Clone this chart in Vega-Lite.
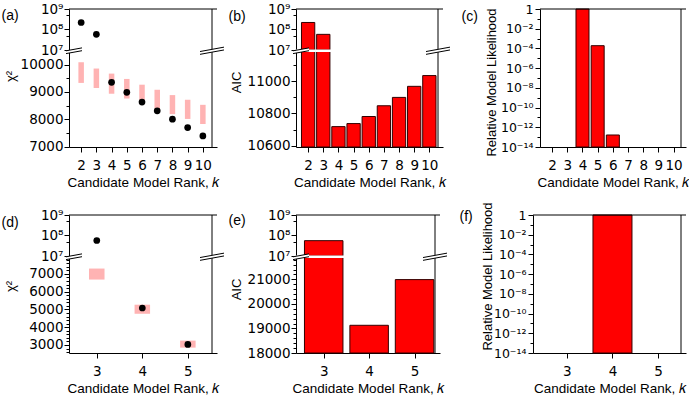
{
"$schema":"https://vega.github.io/schema/vega-lite/v6.json",
"padding":{"left":1,"top":2,"right":0,"bottom":0},
"config":{
  "view":{"stroke":null},
  "font":"Liberation Sans",
  "axis":{"grid":false,"domainColor":"black","tickColor":"black","labelColor":"black","titleColor":"black","labelFont":"DejaVu Sans","labelFontSize":13.5,"titleFont":"Liberation Sans","titleFontSize":13,"titleFontWeight":"normal","labelFlush":false,"labelOverlap":false,"labelBound":false,"labelSeparation":0,"domainWidth":1,"tickWidth":1,"labelPadding":1,"tickCount":100},
  "axisX":{"titleFontSize":13.5,"labelPadding":6.5,"titlePadding":3.5,"tickSize":5,"labelOverlap":false},
  "axisQuantitative":{"labelOverlap":false}
},
"datasets":{
  "top_chi":[
    {"k":2,"chi2":220000000,"lo":9330,"hi":10085},
    {"k":3,"chi2":58000000,"lo":9145,"hi":9855},
    {"k":4,"chi2":9350,"lo":8935,"hi":9670},
    {"k":5,"chi2":8985,"lo":8760,"hi":9475},
    {"k":6,"chi2":8630,"lo":8555,"hi":9265},
    {"k":7,"chi2":8310,"lo":8345,"hi":9080},
    {"k":8,"chi2":8005,"lo":8190,"hi":8885},
    {"k":9,"chi2":7700,"lo":8015,"hi":8715},
    {"k":10,"chi2":7395,"lo":7830,"hi":8530}],
  "top_aic":[{"k":2,"aic":220000000},{"k":3,"aic":58000000},{"k":4,"aic":10718},{"k":5,"aic":10737},{"k":6,"aic":10781},{"k":7,"aic":10848},{"k":8,"aic":10900},{"k":9,"aic":10969},{"k":10,"aic":11036}],
  "top_rml":[{"k":4,"rml":1},{"k":5,"rml":0.00019},{"k":6,"rml":1.65e-13}],
  "bot_chi":[{"k":3,"chi2":57000000,"lo":6680,"hi":7300},{"k":4,"chi2":5080,"lo":4755,"hi":5265},{"k":5,"chi2":3030,"lo":2850,"hi":3245}],
  "bot_aic":[{"k":3,"aic":56000000},{"k":4,"aic":19129},{"k":5,"aic":20990}],
  "bot_rml":[{"k":4,"rml":1}]
},
"spacing":12,
"vconcat":[
{"spacing":9,"hconcat":[
 {"spacing":2,"hconcat":[
  {
   "width":148,"height":138,
   "resolve":{"scale":{"y":"independent"},"axis":{"y":"independent"}},
   "layer":[
    {"data":{"name":"top_chi"},"layer":[
      {"mark":{"type":"bar","width":5.5,"color":"#ffb3b3"},
       "encoding":{
        "x":{"field":"k","type":"quantitative","scale":{"domain":[1.53,10.6],"nice":false,"zero":false},"axis":{"values":[2,3,4,5,6,7,8,9,10],"tickCount":100,"labelExpr":"format(datum.value, 'd')","labelOverlap":false,"title":"Candidate Model Rank, 𝑘"}},
        "y":{"field":"hi","type":"quantitative","scale":{"domain":[6990,10477],"range":[138,42.5],"nice":false,"zero":false,"clamp":true},"axis":{"orient":"left","tickCount":100,"labelOverlap":false,"values":[7000,7500,8000,8500,9000,9500,10000],"labelExpr":"datum.value % 1000 == 0 ? format(datum.value, 'd') : ''","tickSize":{"condition":{"test":"datum.value % 1000 != 0","value":3},"value":5},"title":"χ²","titleX":-59,"titleY":67,"titleBaseline":"middle"}},
        "y2":{"field":"lo"}}},
      {"transform":[{"filter":"datum.chi2 < 1e7"}],
       "mark":{"type":"circle","size":45,"color":"black","opacity":1},
       "encoding":{"x":{"field":"k","type":"quantitative"},"y":{"field":"chi2","type":"quantitative"}}}
    ]},
    {"layer":[
      {"data":{"name":"top_chi"},"transform":[{"filter":"datum.chi2 >= 1e7"}],
       "mark":{"type":"circle","size":45,"color":"black","opacity":1},
       "encoding":{"x":{"field":"k","type":"quantitative"},"y":{"field":"chi2","type":"quantitative","scale":{"type":"log","domain":[10000000,1000000000],"range":[41,0],"nice":false},"axis":{"orient":"left","tickCount":100,"labelOverlap":false,"values":[10000000,50000000,100000000,500000000,1000000000],"labelExpr":"datum.value == 1e9 ? '10⁹' : datum.value == 1e8 ? '10⁸' : datum.value == 1e7 ? '10⁷' : ''","tickSize":{"condition":{"test":"datum.value == 5e7 || datum.value == 5e8","value":3},"value":5},"title":"(a)","titleAngle":0,"titleX":-68,"titleY":6,"titleAlign":"left","titleBaseline":"middle","titleFontSize":14}}}},
      {"data":{"values":[{}]},"mark":{"type":"rule","color":"black","strokeWidth":1},"encoding":{"y":{"datum":1000000000}}},
      {"data":{"values":[{}]},"mark":{"type":"rule","color":"black","strokeWidth":1},"encoding":{"x":{"datum":10.6}}},
      {"data":{"values":[{}]},"mark":{"type":"point","shape":"M -1 0.008 L 1 -0.358 L 1 -0.008 L -1 0.358 Z","size":256,"filled":true,"color":"white","strokeWidth":0,"opacity":1},"encoding":{"x":{"datum":1.53},"y":{"datum":9190000}}},
      {"data":{"values":[{}]},"mark":{"type":"point","shape":"M -1 0.008 L 1 -0.358 M -1 0.358 L 1 -0.008","size":256,"filled":false,"color":"black","strokeWidth":1,"opacity":1},"encoding":{"x":{"datum":1.53},"y":{"datum":9190000}}},
      {"data":{"values":[{}]},"mark":{"type":"point","shape":"M -1 0.066 L 1 -0.3 L 1 -0.066 L -1 0.3 Z","size":576,"filled":true,"color":"white","strokeWidth":0,"opacity":1},"encoding":{"x":{"datum":10.6},"y":{"datum":9190000}}},
      {"data":{"values":[{}]},"mark":{"type":"point","shape":"M -1 0.066 L 1 -0.3 M -1 0.3 L 1 -0.066","size":576,"filled":false,"color":"black","strokeWidth":1,"opacity":1},"encoding":{"x":{"datum":10.6},"y":{"datum":9190000}}}
    ]}
   ]
  },
  {
   "width":147,"height":138,
   "resolve":{"scale":{"y":"independent"},"axis":{"y":"independent"}},
   "layer":[
    {"data":{"name":"top_aic"},"layer":[
      {"mark":{"type":"bar","width":13.3,"color":"#ff0000","stroke":"#330000","strokeWidth":1},
       "encoding":{
        "x":{"field":"k","type":"quantitative","scale":{"domain":[1.53,10.57],"nice":false,"zero":false},"axis":{"values":[2,3,4,5,6,7,8,9,10],"tickCount":100,"labelExpr":"format(datum.value, 'd')","labelOverlap":false,"title":"Candidate Model Rank, 𝑘"}},
        "y":{"field":"aic","type":"quantitative","scale":{"domain":[10591,11186],"range":[138,42.5],"nice":false,"zero":false,"clamp":true},"axis":{"orient":"left","tickCount":100,"labelOverlap":false,"values":[10600,10700,10800,10900,11000,11100],"labelExpr":"datum.value % 200 == 0 ? format(datum.value, 'd') : ''","tickSize":{"condition":{"test":"datum.value % 200 != 0","value":3},"value":5},"title":"AIC","titleX":-60,"titleY":73,"titleBaseline":"middle"}},
        "y2":{"datum":10591}}}
    ]},
    {"layer":[
      {"data":{"name":"top_aic"},"transform":[{"filter":"datum.aic >= 1e7"}],
       "mark":{"type":"bar","width":13.3,"color":"#ff0000","stroke":"#330000","strokeWidth":1},
       "encoding":{"x":{"field":"k","type":"quantitative"},"y":{"field":"aic","type":"quantitative","scale":{"type":"log","domain":[10000000,1000000000],"range":[41,0],"nice":false},"axis":{"orient":"left","tickCount":100,"labelOverlap":false,"values":[10000000,50000000,100000000,500000000,1000000000],"labelExpr":"datum.value == 1e9 ? '10⁹' : datum.value == 1e8 ? '10⁸' : datum.value == 1e7 ? '10⁷' : ''","tickSize":{"condition":{"test":"datum.value == 5e7 || datum.value == 5e8","value":3},"value":5},"title":"(b)","titleAngle":0,"titleX":-68,"titleY":7,"titleAlign":"left","titleBaseline":"middle","titleFontSize":14}},"y2":{"datum":10000000}}},
      {"data":{"values":[{}]},"mark":{"type":"rule","color":"white","strokeWidth":2.5},"encoding":{"y":{"datum":9190000}}},
      {"data":{"values":[{}]},"mark":{"type":"rule","color":"black","strokeWidth":1},"encoding":{"y":{"datum":1000000000}}},
      {"data":{"values":[{}]},"mark":{"type":"rule","color":"black","strokeWidth":1},"encoding":{"x":{"datum":10.57}}},
      {"data":{"values":[{}]},"mark":{"type":"point","shape":"M -1 0.008 L 1 -0.358 L 1 -0.008 L -1 0.358 Z","size":256,"filled":true,"color":"white","strokeWidth":0,"opacity":1},"encoding":{"x":{"datum":1.53},"y":{"datum":9190000}}},
      {"data":{"values":[{}]},"mark":{"type":"point","shape":"M -1 0.008 L 1 -0.358 M -1 0.358 L 1 -0.008","size":256,"filled":false,"color":"black","strokeWidth":1,"opacity":1},"encoding":{"x":{"datum":1.53},"y":{"datum":9190000}}},
      {"data":{"values":[{}]},"mark":{"type":"point","shape":"M -1 0.066 L 1 -0.3 L 1 -0.066 L -1 0.3 Z","size":576,"filled":true,"color":"white","strokeWidth":0,"opacity":1},"encoding":{"x":{"datum":10.57},"y":{"datum":9190000}}},
      {"data":{"values":[{}]},"mark":{"type":"point","shape":"M -1 0.066 L 1 -0.3 M -1 0.3 L 1 -0.066","size":576,"filled":false,"color":"black","strokeWidth":1,"opacity":1},"encoding":{"x":{"datum":10.57},"y":{"datum":9190000}}}
    ]}
   ]
  }
 ]},
 {
  "width":146,"height":138,
  "resolve":{"scale":{"y":"independent"},"axis":{"y":"independent"}},
  "layer":[
   {"layer":[
    {"data":{"name":"top_rml"},
     "mark":{"type":"bar","width":13,"color":"#ff0000","stroke":"#330000","strokeWidth":1},
     "encoding":{
      "x":{"field":"k","type":"quantitative","scale":{"domain":[1.53,10.49],"nice":false,"zero":false},"axis":{"values":[2,3,4,5,6,7,8,9,10],"tickCount":100,"labelExpr":"format(datum.value, 'd')","labelOverlap":false,"title":"Candidate Model Rank, 𝑘"}},
      "y":{"field":"rml","type":"quantitative","scale":{"type":"log","domain":[1e-14,1],"nice":false},"axis":{"orient":"left","tickCount":100,"labelOverlap":false,"labelFontSize":12.5,"values":[1,0.1,0.01,0.001,0.0001,1e-5,1e-6,1e-7,1e-8,1e-9,1e-10,1e-11,1e-12,1e-13,1e-14],"labelExpr":"datum.value == 1 ? '1' : datum.value == 0.01 ? '10⁻²' : datum.value == 0.0001 ? '10⁻⁴' : datum.value == 1e-6 ? '10⁻⁶' : datum.value == 1e-8 ? '10⁻⁸' : datum.value == 1e-10 ? '10⁻¹⁰' : datum.value == 1e-12 ? '10⁻¹²' : datum.value == 1e-14 ? '10⁻¹⁴' : ''","tickSize":{"condition":{"test":"indexof([0.1,0.001,1e-5,1e-7,1e-9,1e-11,1e-13], datum.value) >= 0","value":3},"value":5},"title":"Relative Model Likelihood","titleX":-49,"titleY":73,"titleBaseline":"middle","labelPadding":2}},
      "y2":{"datum":1e-14}}},
    {"data":{"values":[{}]},"mark":{"type":"rule","color":"black","strokeWidth":1},"encoding":{"y":{"datum":1}}},
    {"data":{"values":[{}]},"mark":{"type":"rule","color":"black","strokeWidth":1},"encoding":{"x":{"datum":10.49}}}
   ]},
   {"data":{"values":[{}]},"mark":{"type":"rule","opacity":0},"encoding":{"y":{"datum":0.5,"type":"quantitative","scale":{"domain":[0,1]},"axis":{"orient":"left","domain":false,"ticks":false,"labels":false,"title":"(c)","titleAngle":0,"titleX":-79,"titleY":7,"titleAlign":"left","titleBaseline":"middle","titleFontSize":14}}}}
  ]
 }
]},
{"spacing":10,"hconcat":[
 {"spacing":2,"hconcat":[
  {
   "width":148,"height":138,
   "resolve":{"scale":{"y":"independent"},"axis":{"y":"independent"}},
   "layer":[
    {"data":{"name":"bot_chi"},"layer":[
      {"mark":{"type":"bar","width":15.5,"color":"#ffb3b3"},
       "encoding":{
        "x":{"field":"k","type":"quantitative","scale":{"domain":[2.5,5.53],"nice":false,"zero":false},"axis":{"values":[3,4,5],"tickCount":100,"labelExpr":"format(datum.value, 'd')","labelOverlap":false,"title":"Candidate Model Rank, 𝑘"}},
        "y":{"field":"hi","type":"quantitative","scale":{"domain":[2547,7922],"range":[138,42.5],"nice":false,"zero":false,"clamp":true},"axis":{"orient":"left","tickCount":100,"labelOverlap":false,"values":[2600,2800,3000,3200,3400,3600,3800,4000,4200,4400,4600,4800,5000,5200,5400,5600,5800,6000,6200,6400,6600,6800,7000,7200,7400,7600,7800],"labelExpr":"datum.value % 1000 == 0 ? format(datum.value, 'd') : ''","tickSize":{"condition":{"test":"datum.value % 1000 != 0","value":3},"value":5},"title":"χ²","titleX":-59,"titleY":71,"titleBaseline":"middle"}},
        "y2":{"field":"lo"}}},
      {"transform":[{"filter":"datum.chi2 < 1e7"}],
       "mark":{"type":"circle","size":45,"color":"black","opacity":1},
       "encoding":{"x":{"field":"k","type":"quantitative"},"y":{"field":"chi2","type":"quantitative"}}}
    ]},
    {"layer":[
      {"data":{"name":"bot_chi"},"transform":[{"filter":"datum.chi2 >= 1e7"}],
       "mark":{"type":"circle","size":45,"color":"black","opacity":1},
       "encoding":{"x":{"field":"k","type":"quantitative"},"y":{"field":"chi2","type":"quantitative","scale":{"type":"log","domain":[10000000,1000000000],"range":[41,0],"nice":false},"axis":{"orient":"left","tickCount":100,"labelOverlap":false,"values":[10000000,50000000,100000000,500000000,1000000000],"labelExpr":"datum.value == 1e9 ? '10⁹' : datum.value == 1e8 ? '10⁸' : datum.value == 1e7 ? '10⁷' : ''","tickSize":{"condition":{"test":"datum.value == 5e7 || datum.value == 5e8","value":3},"value":5},"title":"(d)","titleAngle":0,"titleX":-68,"titleY":7,"titleAlign":"left","titleBaseline":"middle","titleFontSize":14}}}},
      {"data":{"values":[{}]},"mark":{"type":"rule","color":"black","strokeWidth":1},"encoding":{"y":{"datum":1000000000}}},
      {"data":{"values":[{}]},"mark":{"type":"rule","color":"black","strokeWidth":1},"encoding":{"x":{"datum":5.53}}},
      {"data":{"values":[{}]},"mark":{"type":"point","shape":"M -1 0.008 L 1 -0.358 L 1 -0.008 L -1 0.358 Z","size":256,"filled":true,"color":"white","strokeWidth":0,"opacity":1},"encoding":{"x":{"datum":2.5},"y":{"datum":9190000}}},
      {"data":{"values":[{}]},"mark":{"type":"point","shape":"M -1 0.008 L 1 -0.358 M -1 0.358 L 1 -0.008","size":256,"filled":false,"color":"black","strokeWidth":1,"opacity":1},"encoding":{"x":{"datum":2.5},"y":{"datum":9190000}}},
      {"data":{"values":[{}]},"mark":{"type":"point","shape":"M -1 0.066 L 1 -0.3 L 1 -0.066 L -1 0.3 Z","size":576,"filled":true,"color":"white","strokeWidth":0,"opacity":1},"encoding":{"x":{"datum":5.53},"y":{"datum":9190000}}},
      {"data":{"values":[{}]},"mark":{"type":"point","shape":"M -1 0.066 L 1 -0.3 M -1 0.3 L 1 -0.066","size":576,"filled":false,"color":"black","strokeWidth":1,"opacity":1},"encoding":{"x":{"datum":5.53},"y":{"datum":9190000}}}
    ]}
   ]
  },
  {
   "width":144,"height":138,
   "resolve":{"scale":{"y":"independent"},"axis":{"y":"independent"}},
   "layer":[
    {"data":{"name":"bot_aic"},"layer":[
      {"mark":{"type":"bar","width":38.5,"color":"#ff0000","stroke":"#330000","strokeWidth":1},
       "encoding":{
        "x":{"field":"k","type":"quantitative","scale":{"domain":[2.5,5.45],"nice":false,"zero":false},"axis":{"values":[3,4,5],"tickCount":100,"labelExpr":"format(datum.value, 'd')","labelOverlap":false,"title":"Candidate Model Rank, 𝑘"}},
        "y":{"field":"aic","type":"quantitative","scale":{"domain":[18000,21890],"range":[138,42.5],"nice":false,"zero":false,"clamp":true},"axis":{"orient":"left","tickCount":100,"labelOverlap":false,"values":[18000,18200,18400,18600,18800,19000,19200,19400,19600,19800,20000,20200,20400,20600,20800,21000,21200,21400,21600,21800],"labelExpr":"datum.value % 1000 == 0 ? format(datum.value, 'd') : ''","tickSize":{"condition":{"test":"datum.value % 1000 != 0","value":3},"value":5},"title":"AIC","titleX":-60,"titleY":74,"titleBaseline":"middle"}},
        "y2":{"datum":18000}}}
    ]},
    {"layer":[
      {"data":{"name":"bot_aic"},"transform":[{"filter":"datum.aic >= 1e7"}],
       "mark":{"type":"bar","width":38.5,"color":"#ff0000","stroke":"#330000","strokeWidth":1},
       "encoding":{"x":{"field":"k","type":"quantitative"},"y":{"field":"aic","type":"quantitative","scale":{"type":"log","domain":[10000000,1000000000],"range":[41,0],"nice":false},"axis":{"orient":"left","tickCount":100,"labelOverlap":false,"values":[10000000,50000000,100000000,500000000,1000000000],"labelExpr":"datum.value == 1e9 ? '10⁹' : datum.value == 1e8 ? '10⁸' : datum.value == 1e7 ? '10⁷' : ''","tickSize":{"condition":{"test":"datum.value == 5e7 || datum.value == 5e8","value":3},"value":5},"title":"(e)","titleAngle":0,"titleX":-68,"titleY":5,"titleAlign":"left","titleBaseline":"middle","titleFontSize":14}},"y2":{"datum":10000000}}},
      {"data":{"values":[{}]},"mark":{"type":"rule","color":"white","strokeWidth":2.5},"encoding":{"y":{"datum":9190000}}},
      {"data":{"values":[{}]},"mark":{"type":"rule","color":"black","strokeWidth":1},"encoding":{"y":{"datum":1000000000}}},
      {"data":{"values":[{}]},"mark":{"type":"rule","color":"black","strokeWidth":1},"encoding":{"x":{"datum":5.45}}},
      {"data":{"values":[{}]},"mark":{"type":"point","shape":"M -1 0.008 L 1 -0.358 L 1 -0.008 L -1 0.358 Z","size":256,"filled":true,"color":"white","strokeWidth":0,"opacity":1},"encoding":{"x":{"datum":2.5},"y":{"datum":9190000}}},
      {"data":{"values":[{}]},"mark":{"type":"point","shape":"M -1 0.008 L 1 -0.358 M -1 0.358 L 1 -0.008","size":256,"filled":false,"color":"black","strokeWidth":1,"opacity":1},"encoding":{"x":{"datum":2.5},"y":{"datum":9190000}}},
      {"data":{"values":[{}]},"mark":{"type":"point","shape":"M -1 0.066 L 1 -0.3 L 1 -0.066 L -1 0.3 Z","size":576,"filled":true,"color":"white","strokeWidth":0,"opacity":1},"encoding":{"x":{"datum":5.45},"y":{"datum":9190000}}},
      {"data":{"values":[{}]},"mark":{"type":"point","shape":"M -1 0.066 L 1 -0.3 M -1 0.3 L 1 -0.066","size":576,"filled":false,"color":"black","strokeWidth":1,"opacity":1},"encoding":{"x":{"datum":5.45},"y":{"datum":9190000}}}
    ]}
   ]
  }
 ]},
 {
  "width":153,"height":138,
  "resolve":{"scale":{"y":"independent"},"axis":{"y":"independent"}},
  "layer":[
   {"layer":[
    {"data":{"name":"bot_rml"},
     "mark":{"type":"bar","width":39,"color":"#ff0000","stroke":"#330000","strokeWidth":1},
     "encoding":{
      "x":{"field":"k","type":"quantitative","scale":{"domain":[2.37,5.5],"nice":false,"zero":false},"axis":{"values":[3,4,5],"tickCount":100,"labelExpr":"format(datum.value, 'd')","labelOverlap":false,"title":"Candidate Model Rank, 𝑘"}},
      "y":{"field":"rml","type":"quantitative","scale":{"type":"log","domain":[1e-14,1],"nice":false},"axis":{"orient":"left","tickCount":100,"labelOverlap":false,"labelFontSize":12.5,"values":[1,0.1,0.01,0.001,0.0001,1e-5,1e-6,1e-7,1e-8,1e-9,1e-10,1e-11,1e-12,1e-13,1e-14],"labelExpr":"datum.value == 1 ? '1' : datum.value == 0.01 ? '10⁻²' : datum.value == 0.0001 ? '10⁻⁴' : datum.value == 1e-6 ? '10⁻⁶' : datum.value == 1e-8 ? '10⁻⁸' : datum.value == 1e-10 ? '10⁻¹⁰' : datum.value == 1e-12 ? '10⁻¹²' : datum.value == 1e-14 ? '10⁻¹⁴' : ''","tickSize":{"condition":{"test":"indexof([0.1,0.001,1e-5,1e-7,1e-9,1e-11,1e-13], datum.value) >= 0","value":3},"value":5},"title":"Relative Model Likelihood","titleX":-46,"titleY":61,"titleBaseline":"middle","labelPadding":2}},
      "y2":{"datum":1e-14}}},
    {"data":{"values":[{}]},"mark":{"type":"rule","color":"black","strokeWidth":1},"encoding":{"y":{"datum":1}}},
    {"data":{"values":[{}]},"mark":{"type":"rule","color":"black","strokeWidth":1},"encoding":{"x":{"datum":5.5}}}
   ]},
   {"data":{"values":[{}]},"mark":{"type":"rule","opacity":0},"encoding":{"y":{"datum":0.5,"type":"quantitative","scale":{"domain":[0,1]},"axis":{"orient":"left","domain":false,"ticks":false,"labels":false,"title":"(f)","titleAngle":0,"titleX":-74,"titleY":1,"titleAlign":"left","titleBaseline":"middle","titleFontSize":14}}}}
  ]
 }
]}
]
}
